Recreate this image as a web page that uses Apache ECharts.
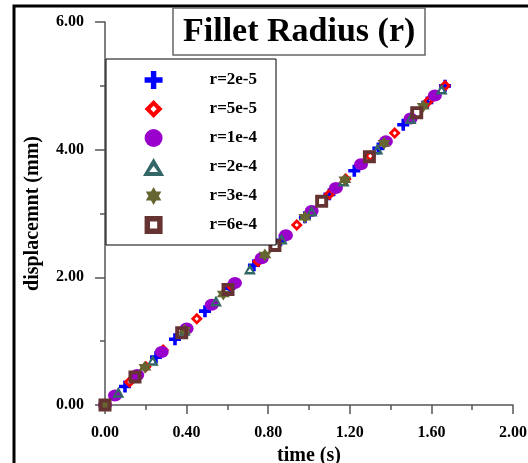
<!doctype html>
<html>
<head>
    <meta charset="utf-8">
    <title>Fillet Radius (r)</title>
    <script src="https://cdn.jsdelivr.net/npm/echarts@6/dist/echarts.min.js"></script>
    <style>
        html, body{ margin: 0; padding: 0; background: #fff; }
        #chartBox{ width: 528px; height: 463px; }
    </style>
</head>
<body>
<div id="chartBox"></div>
<script type="text/javascript">
    // legend names
    var seriesNames = ['r=2e-5', 'r=5e-5', 'r=1e-4', 'r=2e-4', 'r=3e-4', 'r=6e-4'];

    // time (s) / displacement (mm) per series
    var t1 = [0, 0.098, 0.25, 0.343, 0.49, 0.61, 0.73, 0.86, 0.98, 1.10, 1.222, 1.34, 1.462, 1.58, 1.667];
    var d1 = [0, 0.29, 0.75, 1.03, 1.47, 1.83, 2.19, 2.58, 2.94, 3.30, 3.67, 4.02, 4.39, 4.74, 5.00];

    var t2 = [0, 0.12, 0.20, 0.285, 0.45, 0.62, 0.75, 0.94, 1.10, 1.18, 1.30, 1.42, 1.585, 1.667];
    var d2 = [0, 0.36, 0.60, 0.86, 1.35, 1.86, 2.25, 2.82, 3.30, 3.54, 3.90, 4.26, 4.76, 5.00];

    var t3 = [0, 0.049, 0.158, 0.278, 0.40, 0.523, 0.637, 0.768, 0.887, 1.013, 1.132, 1.255, 1.377, 1.498, 1.617];
    var d3 = [0, 0.15, 0.47, 0.83, 1.20, 1.57, 1.91, 2.30, 2.66, 3.04, 3.40, 3.77, 4.13, 4.49, 4.85];

    var t4 = [0, 0.065, 0.234, 0.39, 0.544, 0.71, 0.866, 1.013, 1.17, 1.335, 1.498, 1.65];
    var d4 = [0, 0.20, 0.70, 1.17, 1.63, 2.13, 2.60, 3.04, 3.51, 4.01, 4.49, 4.95];

    var t5 = [0, 0.196, 0.39, 0.58, 0.784, 0.98, 1.176, 1.368, 1.56];
    var d5 = [0, 0.59, 1.17, 1.74, 2.35, 2.94, 3.53, 4.10, 4.68];

    var t6 = [0, 0.147, 0.376, 0.603, 0.833, 1.062, 1.296, 1.528];
    var d6 = [0, 0.44, 1.13, 1.81, 2.50, 3.19, 3.89, 4.58];

    var font = 'Liberation Serif';

    function pairs(t, d){
        var out = [];
        for (var i = 0; i < t.length; i++) out.push([t[i], d[i]]);
        return out;
    }

    // marker shapes (hollow ones are paths with a reversed inner ring)
    var crossPath = 'path://M7,0h6v7h7v6h-7v7h-6v-7h-7v-6h7z';
    var diamondPath = 'path://M10,0L20,10L10,20L0,10Z M10,6.5L6.5,10L10,13.5L13.5,10Z';
    var trianglePath = 'path://M10,0L20,17L0,17Z M10,7.5L5.8,13.2L14.2,13.2Z';
    var starPath = 'path://M0,-10L8.66,5L-8.66,5Z M0,10L-8.66,-5L8.66,-5Z';
    var squarePath = 'path://M0,0H20V20H0Z M6,6V14H14V6Z';

    var styles = [
        {symbol: crossPath, size: 12, color: '#0000ff'},
        {symbol: diamondPath, size: 12, color: '#ff0000'},
        {symbol: 'circle', size: [14, 12], color: '#9900cc'},
        {symbol: trianglePath, size: [12, 11], color: '#336666'},
        {symbol: starPath, size: 13, color: '#666633'},
        {symbol: squarePath, size: 13, color: '#663333'}
    ];
    var allT = [t1, t2, t3, t4, t5, t6], allD = [d1, d2, d3, d4, d5, d6];

    var series = [];
    for (var k = 0; k < seriesNames.length; k++){
        series.push({
            name: seriesNames[k],
            type: 'scatter',
            symbol: styles[k].symbol,
            symbolSize: styles[k].size,
            itemStyle: {color: styles[k].color, opacity: 1},
            data: pairs(allT[k], allD[k])
        });
    }

    var myChart = echarts.init(document.getElementById('chartBox'));
    var option = {
        animation: false,
        backgroundColor: '#fff',
        title: {
            text: 'Fillet Radius (r)',
            left: 173, top: 8,
            padding: [6, 10, 5, 10],
            borderColor: '#666',
            borderWidth: 1.5,
            textStyle: {fontFamily: font, fontWeight: 'bold', fontSize: 34, lineHeight: 36, color: '#000'}
        },
        legend: {
            data: seriesNames,
            orient: 'vertical',
            left: 106, top: 59,
            padding: [12, 19, 11, 37],
            itemWidth: 22, itemHeight: 18, itemGap: 11,
            borderColor: '#000', borderWidth: 1,
            backgroundColor: '#fff',
            textStyle: {fontFamily: font, fontWeight: 'bold', fontSize: 17, color: '#000', padding: [0, 0, 0, 40]}
        },
        grid: {left: 105, right: 15, top: 22, bottom: 58, containLabel: false, outerBoundsMode: 'none'},
        xAxis: {
            type: 'value', min: 0, max: 2, interval: 0.4,
            name: 'time (s)', nameLocation: 'middle', nameGap: 37,
            nameTextStyle: {fontFamily: font, fontWeight: 'bold', fontSize: 20, color: '#000'},
            axisLine: {lineStyle: {color: '#555', width: 1.5}},
            axisTick: {inside: false, length: 9, lineStyle: {color: '#555', width: 1.5}},
            minorTick: {show: true, splitNumber: 2, length: 5, lineStyle: {color: '#555', width: 1.5}},
            splitLine: {show: false},
            axisLabel: {margin: 20, fontFamily: font, fontWeight: 'bold', fontSize: 16, color: '#000',
                formatter: function(v){ return v.toFixed(2); }}
        },
        yAxis: {
            type: 'value', min: 0, max: 6, interval: 2,
            name: 'displacemnt (mm)', nameLocation: 'middle', nameGap: 62,
            nameTextStyle: {fontFamily: font, fontWeight: 'bold', fontSize: 20, color: '#000'},
            axisLine: {show: true, lineStyle: {color: '#555', width: 1.5}},
            axisTick: {show: true, length: 10, lineStyle: {color: '#555', width: 1.5}},
            minorTick: {show: true, splitNumber: 2, length: 5, lineStyle: {color: '#555', width: 1.5}},
            splitLine: {show: false},
            axisLabel: {margin: 21, fontFamily: font, fontWeight: 'bold', fontSize: 16, color: '#000',
                formatter: function(v){ return v.toFixed(2); }}
        },
        graphic: [
            {type: 'polyline', shape: {points: [[14, 463], [14, 6], [528, 6]]}, style: {stroke: '#000', lineWidth: 3, fill: null}}
        ],
        series: series
    };
    myChart.setOption(option);
</script>
</body>
</html>
